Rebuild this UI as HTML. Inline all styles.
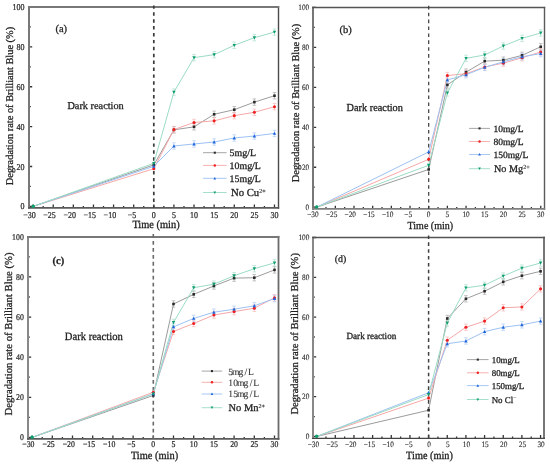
<!DOCTYPE html>
<html><head><meta charset="utf-8"><style>
html,body{margin:0;padding:0;background:#fff;}
body{width:550px;height:467px;overflow:hidden;font-family:"Liberation Serif",serif;}
svg{display:block;text-rendering:geometricPrecision;filter:blur(0.3px);}
text{stroke:#222;stroke-width:var(--tsw,0.28px);}
</style></head><body>
<svg width="550" height="467" viewBox="0 0 550 467">
<rect width="550" height="467" fill="#fff"/>
<g id="pa"><path d="M33.11 207.8V204.6M43.17 207.8V206M53.23 207.8V204.6M63.28 207.8V206M73.34 207.8V204.6M83.4 207.8V206M93.46 207.8V204.6M103.51 207.8V206M113.57 207.8V204.6M123.63 207.8V206M133.69 207.8V204.6M143.74 207.8V206M153.8 207.8V204.6M163.86 207.8V206M173.92 207.8V204.6M183.97 207.8V206M194.03 207.8V204.6M204.09 207.8V206M214.15 207.8V204.6M224.2 207.8V206M234.26 207.8V204.6M244.32 207.8V206M254.38 207.8V204.6M264.43 207.8V206M274.49 207.8V204.6M29 206.4H32.2M29 186.46H30.8M29 166.52H32.2M29 146.58H30.8M29 126.64H32.2M29 106.7H30.8M29 86.76H32.2M29 66.82H30.8M29 46.88H32.2M29 26.94H30.8M29 7H32.2" stroke="#333" stroke-width="1.3" fill="none"/><line x1="29" y1="6" x2="29" y2="208.7" stroke="#787878" stroke-width="2.0"/><line x1="278.5" y1="6" x2="278.5" y2="208.7" stroke="#4a4a4a" stroke-width="1.4"/><line x1="28" y1="7" x2="279.2" y2="7" stroke="#787878" stroke-width="2.0"/><line x1="28" y1="207.8" x2="279.2" y2="207.8" stroke="#5a5a5a" stroke-width="1.8"/><line x1="153.8" y1="5.4" x2="153.8" y2="207.8" stroke="#3a3a3a" stroke-width="1.7" stroke-dasharray="3.45 3.45"/><polyline points="33.11,206.4 153.8,164.92 173.92,129.83 194.03,126.84 214.15,114.28 234.26,109.69 254.38,102.11 274.49,95.73" fill="none" stroke="#9c9c9c" stroke-width="1.0"/><polyline points="33.11,206.4 153.8,168.71 173.92,129.63 194.03,122.45 214.15,120.86 234.26,115.67 254.38,112.28 274.49,106.7" fill="none" stroke="#f7a8a8" stroke-width="1.0"/><polyline points="33.11,206.4 153.8,166.32 173.92,145.98 194.03,143.99 214.15,141.99 234.26,138.01 254.38,136.01 274.49,133.42" fill="none" stroke="#9dc2f3" stroke-width="1.0"/><polyline points="33.11,206.4 153.8,163.33 173.92,92.14 194.03,57.65 214.15,54.66 234.26,45.28 254.38,37.71 274.49,32.12" fill="none" stroke="#9cdcc4" stroke-width="1.0"/><path d="M173.92 126.64V133.02M172.12 126.64H175.72M172.12 133.02H175.72" stroke="#ababab" stroke-width="0.7" fill="none"/><path d="M194.03 123.65V130.03M192.23 123.65H195.83M192.23 130.03H195.83" stroke="#ababab" stroke-width="0.7" fill="none"/><path d="M214.15 111.09V117.47M212.34 111.09H215.95M212.34 117.47H215.95" stroke="#ababab" stroke-width="0.7" fill="none"/><path d="M234.26 106.5V112.88M232.46 106.5H236.06M232.46 112.88H236.06" stroke="#ababab" stroke-width="0.7" fill="none"/><path d="M254.38 98.92V105.3M252.57 98.92H256.18M252.57 105.3H256.18" stroke="#ababab" stroke-width="0.7" fill="none"/><path d="M274.49 92.54V98.92M272.69 92.54H276.29M272.69 98.92H276.29" stroke="#ababab" stroke-width="0.7" fill="none"/><path d="M173.92 126.44V132.82M172.12 126.44H175.72M172.12 132.82H175.72" stroke="#f6b8b8" stroke-width="0.7" fill="none"/><path d="M194.03 119.26V125.64M192.23 119.26H195.83M192.23 125.64H195.83" stroke="#f6b8b8" stroke-width="0.7" fill="none"/><path d="M214.15 117.67V124.05M212.34 117.67H215.95M212.34 124.05H215.95" stroke="#f6b8b8" stroke-width="0.7" fill="none"/><path d="M234.26 112.48V118.86M232.46 112.48H236.06M232.46 118.86H236.06" stroke="#f6b8b8" stroke-width="0.7" fill="none"/><path d="M254.38 109.09V115.47M252.57 109.09H256.18M252.57 115.47H256.18" stroke="#f6b8b8" stroke-width="0.7" fill="none"/><path d="M274.49 103.51V109.89M272.69 103.51H276.29M272.69 109.89H276.29" stroke="#f6b8b8" stroke-width="0.7" fill="none"/><path d="M173.92 142.79V149.17M172.12 142.79H175.72M172.12 149.17H175.72" stroke="#b0ccf5" stroke-width="0.7" fill="none"/><path d="M194.03 140.8V147.18M192.23 140.8H195.83M192.23 147.18H195.83" stroke="#b0ccf5" stroke-width="0.7" fill="none"/><path d="M214.15 138.8V145.18M212.34 138.8H215.95M212.34 145.18H215.95" stroke="#b0ccf5" stroke-width="0.7" fill="none"/><path d="M234.26 134.82V141.2M232.46 134.82H236.06M232.46 141.2H236.06" stroke="#b0ccf5" stroke-width="0.7" fill="none"/><path d="M254.38 132.82V139.2M252.57 132.82H256.18M252.57 139.2H256.18" stroke="#b0ccf5" stroke-width="0.7" fill="none"/><path d="M274.49 130.23V136.61M272.69 130.23H276.29M272.69 136.61H276.29" stroke="#b0ccf5" stroke-width="0.7" fill="none"/><path d="M173.92 88.95V95.33M172.12 88.95H175.72M172.12 95.33H175.72" stroke="#ade0cd" stroke-width="0.7" fill="none"/><path d="M194.03 54.46V60.84M192.23 54.46H195.83M192.23 60.84H195.83" stroke="#ade0cd" stroke-width="0.7" fill="none"/><path d="M214.15 51.47V57.85M212.34 51.47H215.95M212.34 57.85H215.95" stroke="#ade0cd" stroke-width="0.7" fill="none"/><path d="M234.26 42.09V48.48M232.46 42.09H236.06M232.46 48.48H236.06" stroke="#ade0cd" stroke-width="0.7" fill="none"/><path d="M254.38 34.52V40.9M252.57 34.52H256.18M252.57 40.9H256.18" stroke="#ade0cd" stroke-width="0.7" fill="none"/><path d="M274.49 28.93V35.31M272.69 28.93H276.29M272.69 35.31H276.29" stroke="#ade0cd" stroke-width="0.7" fill="none"/><rect x="152.5" y="163.62" width="2.6" height="2.6" fill="#2a2a2a"/><rect x="172.62" y="128.53" width="2.6" height="2.6" fill="#2a2a2a"/><rect x="192.73" y="125.54" width="2.6" height="2.6" fill="#2a2a2a"/><rect x="212.84" y="112.98" width="2.6" height="2.6" fill="#2a2a2a"/><rect x="232.96" y="108.39" width="2.6" height="2.6" fill="#2a2a2a"/><rect x="253.07" y="100.81" width="2.6" height="2.6" fill="#2a2a2a"/><rect x="273.19" y="94.43" width="2.6" height="2.6" fill="#2a2a2a"/><circle cx="153.8" cy="168.71" r="1.55" fill="#f02020"/><circle cx="173.92" cy="129.63" r="1.55" fill="#f02020"/><circle cx="194.03" cy="122.45" r="1.55" fill="#f02020"/><circle cx="214.15" cy="120.86" r="1.55" fill="#f02020"/><circle cx="234.26" cy="115.67" r="1.55" fill="#f02020"/><circle cx="254.38" cy="112.28" r="1.55" fill="#f02020"/><circle cx="274.49" cy="106.7" r="1.55" fill="#f02020"/><path d="M153.8 164.57L155.55 167.72L152.05 167.72Z" fill="#1f66dc"/><path d="M173.92 144.23L175.67 147.38L172.17 147.38Z" fill="#1f66dc"/><path d="M194.03 142.24L195.78 145.39L192.28 145.39Z" fill="#1f66dc"/><path d="M214.15 140.24L215.9 143.39L212.4 143.39Z" fill="#1f66dc"/><path d="M234.26 136.26L236.01 139.41L232.51 139.41Z" fill="#1f66dc"/><path d="M254.38 134.26L256.12 137.41L252.62 137.41Z" fill="#1f66dc"/><path d="M274.49 131.67L276.24 134.82L272.74 134.82Z" fill="#1f66dc"/><path d="M153.8 165.08L155.55 161.93L152.05 161.93Z" fill="#0f9f6e"/><path d="M173.92 93.89L175.67 90.74L172.17 90.74Z" fill="#0f9f6e"/><path d="M194.03 59.4L195.78 56.25L192.28 56.25Z" fill="#0f9f6e"/><path d="M214.15 56.41L215.9 53.26L212.4 53.26Z" fill="#0f9f6e"/><path d="M234.26 47.03L236.01 43.88L232.51 43.88Z" fill="#0f9f6e"/><path d="M254.38 39.46L256.12 36.31L252.62 36.31Z" fill="#0f9f6e"/><path d="M274.49 33.87L276.24 30.72L272.74 30.72Z" fill="#0f9f6e"/><circle cx="33.11" cy="206.2" r="1.7" fill="#0f9f6e"/><g font-family="Liberation Serif, serif" font-size="8.0" fill="#333" style="--tsw:0.22px"><text transform="translate(24.6 209.43) scale(1 1.12)" text-anchor="end">0</text><text transform="translate(24.6 169.55) scale(1 1.12)" text-anchor="end">20</text><text transform="translate(24.6 129.67) scale(1 1.12)" text-anchor="end">40</text><text transform="translate(24.6 89.79) scale(1 1.12)" text-anchor="end">60</text><text transform="translate(24.6 49.91) scale(1 1.12)" text-anchor="end">80</text><text transform="translate(24.6 10.03) scale(1 1.12)" text-anchor="end">100</text><text transform="translate(29.41 217.6) scale(1 1.12)" text-anchor="middle">−30</text><text transform="translate(49.53 217.6) scale(1 1.12)" text-anchor="middle">−25</text><text transform="translate(69.64 217.6) scale(1 1.12)" text-anchor="middle">−20</text><text transform="translate(89.76 217.6) scale(1 1.12)" text-anchor="middle">−15</text><text transform="translate(109.87 217.6) scale(1 1.12)" text-anchor="middle">−10</text><text transform="translate(131.88 217.6) scale(1 1.12)" text-anchor="middle">−5</text><text transform="translate(153.8 217.6) scale(1 1.12)" text-anchor="middle">0</text><text transform="translate(173.92 217.6) scale(1 1.12)" text-anchor="middle">5</text><text transform="translate(194.03 217.6) scale(1 1.12)" text-anchor="middle">10</text><text transform="translate(214.15 217.6) scale(1 1.12)" text-anchor="middle">15</text><text transform="translate(234.26 217.6) scale(1 1.12)" text-anchor="middle">20</text><text transform="translate(254.38 217.6) scale(1 1.12)" text-anchor="middle">25</text><text transform="translate(274.49 217.6) scale(1 1.12)" text-anchor="middle">30</text></g><text font-family="Liberation Serif, serif" font-size="10.4" fill="#222" transform="translate(156 228.4) scale(1 1.08)" text-anchor="middle">Time (min)</text><text font-family="Liberation Serif, serif" font-size="10.4" fill="#222" text-anchor="middle" transform="translate(12.9 106) rotate(-90)">Degradation rate of Brilliant Blue (%)</text><text font-family="Liberation Serif, serif" font-size="10.3" fill="#222" transform="translate(67.4 108.8) scale(1 1)">Dark reaction</text><text font-family="Liberation Serif, serif" font-size="10.5" fill="#222" x="55.4" y="32.3">(a)</text><line x1="203" y1="152.7" x2="226.6" y2="152.7" stroke="#9c9c9c" stroke-width="0.9"/><rect x="213.76" y="151.66" width="2.08" height="2.08" fill="#2a2a2a"/><text font-family="Liberation Serif, serif" font-size="9.9" fill="#222" x="229.6" y="156.26">5mg/L</text><line x1="203" y1="165.4" x2="226.6" y2="165.4" stroke="#f7a8a8" stroke-width="0.9"/><circle cx="214.8" cy="165.4" r="1.24" fill="#f02020"/><text font-family="Liberation Serif, serif" font-size="9.9" fill="#222" x="229.6" y="168.96">10mg/L</text><line x1="203" y1="178.3" x2="226.6" y2="178.3" stroke="#9dc2f3" stroke-width="0.9"/><path d="M214.8 176.9L216.2 179.42L213.4 179.42Z" fill="#1f66dc"/><text font-family="Liberation Serif, serif" font-size="9.9" fill="#222" x="229.6" y="181.86">15mg/L</text><line x1="203" y1="192.5" x2="226.6" y2="192.5" stroke="#9cdcc4" stroke-width="0.9"/><path d="M214.8 193.9L216.2 191.38L213.4 191.38Z" fill="#0f9f6e"/><text font-family="Liberation Serif, serif" font-size="10.7" fill="#222" x="231" y="196.14">No Cu<tspan font-size="6.0" dy="-3.6" style="stroke-width:0.12px">2+</tspan></text></g><g id="pb"><path d="M316.65 208.9V205.7M325.99 208.9V207.1M335.32 208.9V205.7M344.66 208.9V207.1M354 208.9V205.7M363.34 208.9V207.1M372.68 208.9V205.7M382.01 208.9V207.1M391.35 208.9V205.7M400.69 208.9V207.1M410.02 208.9V205.7M419.36 208.9V207.1M428.7 208.9V205.7M438.04 208.9V207.1M447.38 208.9V205.7M456.71 208.9V207.1M466.05 208.9V205.7M475.39 208.9V207.1M484.72 208.9V205.7M494.06 208.9V207.1M503.4 208.9V205.7M512.74 208.9V207.1M522.08 208.9V205.7M531.41 208.9V207.1M540.75 208.9V205.7M313 207.2H316.2M313 187.22H314.8M313 167.24H316.2M313 147.26H314.8M313 127.28H316.2M313 107.3H314.8M313 87.32H316.2M313 67.34H314.8M313 47.36H316.2M313 27.38H314.8M313 7.4H316.2" stroke="#333" stroke-width="1.3" fill="none"/><line x1="313" y1="6.85" x2="313" y2="209.8" stroke="#777" stroke-width="2.0"/><line x1="544.5" y1="6.85" x2="544.5" y2="209.8" stroke="#5a5a5a" stroke-width="1.4"/><line x1="312" y1="7.5" x2="545.2" y2="7.5" stroke="#555" stroke-width="1.3"/><line x1="312" y1="208.9" x2="545.2" y2="208.9" stroke="#808080" stroke-width="1.8"/><line x1="428.7" y1="5.8" x2="428.7" y2="208.9" stroke="#3a3a3a" stroke-width="1.2" stroke-dasharray="3.6 3.3"/><polyline points="316.65,207.2 428.7,169.44 447.38,84.92 466.05,72.14 484.72,61.15 503.4,60.15 522.08,55.35 540.75,46.76" fill="none" stroke="#9c9c9c" stroke-width="1.0"/><polyline points="316.65,207.2 428.7,159.25 447.38,75.53 466.05,73.73 484.72,66.94 503.4,63.14 522.08,57.75 540.75,51.96" fill="none" stroke="#f7a8a8" stroke-width="1.0"/><polyline points="316.65,207.2 428.7,151.86 447.38,79.93 466.05,74.73 484.72,67.34 503.4,61.75 522.08,56.75 540.75,53.55" fill="none" stroke="#9dc2f3" stroke-width="1.0"/><polyline points="316.65,207.2 428.7,165.24 447.38,92.91 466.05,58.35 484.72,54.95 503.4,45.96 522.08,38.37 540.75,32.97" fill="none" stroke="#9cdcc4" stroke-width="1.0"/><path d="M447.38 81.73V88.12M445.57 81.73H449.18M445.57 88.12H449.18" stroke="#ababab" stroke-width="0.7" fill="none"/><path d="M466.05 68.94V75.33M464.25 68.94H467.85M464.25 75.33H467.85" stroke="#ababab" stroke-width="0.7" fill="none"/><path d="M484.72 57.95V64.34M482.92 57.95H486.52M482.92 64.34H486.52" stroke="#ababab" stroke-width="0.7" fill="none"/><path d="M503.4 56.95V63.34M501.6 56.95H505.2M501.6 63.34H505.2" stroke="#ababab" stroke-width="0.7" fill="none"/><path d="M522.08 52.16V58.55M520.28 52.16H523.88M520.28 58.55H523.88" stroke="#ababab" stroke-width="0.7" fill="none"/><path d="M540.75 43.56V49.96M538.95 43.56H542.55M538.95 49.96H542.55" stroke="#ababab" stroke-width="0.7" fill="none"/><path d="M447.38 72.33V78.73M445.57 72.33H449.18M445.57 78.73H449.18" stroke="#f6b8b8" stroke-width="0.7" fill="none"/><path d="M466.05 70.54V76.93M464.25 70.54H467.85M464.25 76.93H467.85" stroke="#f6b8b8" stroke-width="0.7" fill="none"/><path d="M484.72 63.74V70.14M482.92 63.74H486.52M482.92 70.14H486.52" stroke="#f6b8b8" stroke-width="0.7" fill="none"/><path d="M503.4 59.95V66.34M501.6 59.95H505.2M501.6 66.34H505.2" stroke="#f6b8b8" stroke-width="0.7" fill="none"/><path d="M522.08 54.55V60.95M520.28 54.55H523.88M520.28 60.95H523.88" stroke="#f6b8b8" stroke-width="0.7" fill="none"/><path d="M540.75 48.76V55.15M538.95 48.76H542.55M538.95 55.15H542.55" stroke="#f6b8b8" stroke-width="0.7" fill="none"/><path d="M447.38 76.73V83.12M445.57 76.73H449.18M445.57 83.12H449.18" stroke="#b0ccf5" stroke-width="0.7" fill="none"/><path d="M466.05 71.54V77.93M464.25 71.54H467.85M464.25 77.93H467.85" stroke="#b0ccf5" stroke-width="0.7" fill="none"/><path d="M484.72 64.14V70.54M482.92 64.14H486.52M482.92 70.54H486.52" stroke="#b0ccf5" stroke-width="0.7" fill="none"/><path d="M503.4 58.55V64.94M501.6 58.55H505.2M501.6 64.94H505.2" stroke="#b0ccf5" stroke-width="0.7" fill="none"/><path d="M522.08 53.55V59.95M520.28 53.55H523.88M520.28 59.95H523.88" stroke="#b0ccf5" stroke-width="0.7" fill="none"/><path d="M540.75 50.36V56.75M538.95 50.36H542.55M538.95 56.75H542.55" stroke="#b0ccf5" stroke-width="0.7" fill="none"/><path d="M447.38 89.72V96.11M445.57 89.72H449.18M445.57 96.11H449.18" stroke="#ade0cd" stroke-width="0.7" fill="none"/><path d="M466.05 55.15V61.55M464.25 55.15H467.85M464.25 61.55H467.85" stroke="#ade0cd" stroke-width="0.7" fill="none"/><path d="M484.72 51.76V58.15M482.92 51.76H486.52M482.92 58.15H486.52" stroke="#ade0cd" stroke-width="0.7" fill="none"/><path d="M503.4 42.76V49.16M501.6 42.76H505.2M501.6 49.16H505.2" stroke="#ade0cd" stroke-width="0.7" fill="none"/><path d="M522.08 35.17V41.57M520.28 35.17H523.88M520.28 41.57H523.88" stroke="#ade0cd" stroke-width="0.7" fill="none"/><path d="M540.75 29.78V36.17M538.95 29.78H542.55M538.95 36.17H542.55" stroke="#ade0cd" stroke-width="0.7" fill="none"/><rect x="427.4" y="168.14" width="2.6" height="2.6" fill="#2a2a2a"/><rect x="446.07" y="83.62" width="2.6" height="2.6" fill="#2a2a2a"/><rect x="464.75" y="70.84" width="2.6" height="2.6" fill="#2a2a2a"/><rect x="483.42" y="59.85" width="2.6" height="2.6" fill="#2a2a2a"/><rect x="502.1" y="58.85" width="2.6" height="2.6" fill="#2a2a2a"/><rect x="520.78" y="54.05" width="2.6" height="2.6" fill="#2a2a2a"/><rect x="539.45" y="45.46" width="2.6" height="2.6" fill="#2a2a2a"/><circle cx="428.7" cy="159.25" r="1.55" fill="#f02020"/><circle cx="447.38" cy="75.53" r="1.55" fill="#f02020"/><circle cx="466.05" cy="73.73" r="1.55" fill="#f02020"/><circle cx="484.72" cy="66.94" r="1.55" fill="#f02020"/><circle cx="503.4" cy="63.14" r="1.55" fill="#f02020"/><circle cx="522.08" cy="57.75" r="1.55" fill="#f02020"/><circle cx="540.75" cy="51.96" r="1.55" fill="#f02020"/><path d="M428.7 150.11L430.45 153.26L426.95 153.26Z" fill="#1f66dc"/><path d="M447.38 78.18L449.12 81.33L445.62 81.33Z" fill="#1f66dc"/><path d="M466.05 72.98L467.8 76.13L464.3 76.13Z" fill="#1f66dc"/><path d="M484.72 65.59L486.47 68.74L482.97 68.74Z" fill="#1f66dc"/><path d="M503.4 60L505.15 63.15L501.65 63.15Z" fill="#1f66dc"/><path d="M522.08 55L523.83 58.15L520.33 58.15Z" fill="#1f66dc"/><path d="M540.75 51.8L542.5 54.95L539 54.95Z" fill="#1f66dc"/><path d="M428.7 166.99L430.45 163.84L426.95 163.84Z" fill="#0f9f6e"/><path d="M447.38 94.66L449.12 91.51L445.62 91.51Z" fill="#0f9f6e"/><path d="M466.05 60.1L467.8 56.95L464.3 56.95Z" fill="#0f9f6e"/><path d="M484.72 56.7L486.47 53.55L482.97 53.55Z" fill="#0f9f6e"/><path d="M503.4 47.71L505.15 44.56L501.65 44.56Z" fill="#0f9f6e"/><path d="M522.08 40.12L523.83 36.97L520.33 36.97Z" fill="#0f9f6e"/><path d="M540.75 34.72L542.5 31.57L539 31.57Z" fill="#0f9f6e"/><circle cx="316.65" cy="207" r="1.7" fill="#0f9f6e"/><g font-family="Liberation Serif, serif" font-size="7.3" fill="#333" style="--tsw:0.12px"><text transform="translate(309.2 209.96) scale(1 1.12)" text-anchor="end">0</text><text transform="translate(309.2 170) scale(1 1.12)" text-anchor="end">20</text><text transform="translate(309.2 130.04) scale(1 1.12)" text-anchor="end">40</text><text transform="translate(309.2 90.08) scale(1 1.12)" text-anchor="end">60</text><text transform="translate(309.2 50.12) scale(1 1.12)" text-anchor="end">80</text><text transform="translate(309.2 10.16) scale(1 1.12)" text-anchor="end">100</text><text transform="translate(312.95 217.2) scale(1 1.12)" text-anchor="middle">−30</text><text transform="translate(331.62 217.2) scale(1 1.12)" text-anchor="middle">−25</text><text transform="translate(350.3 217.2) scale(1 1.12)" text-anchor="middle">−20</text><text transform="translate(368.98 217.2) scale(1 1.12)" text-anchor="middle">−15</text><text transform="translate(387.65 217.2) scale(1 1.12)" text-anchor="middle">−10</text><text transform="translate(408.22 217.2) scale(1 1.12)" text-anchor="middle">−5</text><text transform="translate(428.7 217.2) scale(1 1.12)" text-anchor="middle">0</text><text transform="translate(447.38 217.2) scale(1 1.12)" text-anchor="middle">5</text><text transform="translate(466.05 217.2) scale(1 1.12)" text-anchor="middle">10</text><text transform="translate(484.72 217.2) scale(1 1.12)" text-anchor="middle">15</text><text transform="translate(503.4 217.2) scale(1 1.12)" text-anchor="middle">20</text><text transform="translate(522.08 217.2) scale(1 1.12)" text-anchor="middle">25</text><text transform="translate(540.75 217.2) scale(1 1.12)" text-anchor="middle">30</text></g><text font-family="Liberation Serif, serif" font-size="10.0" fill="#222" transform="translate(430.3 228.6) scale(1 1.08)" text-anchor="middle">Time (min)</text><text font-family="Liberation Serif, serif" font-size="10.4" fill="#222" text-anchor="middle" transform="translate(298.8 103) rotate(-90)">Degradation rate of Brilliant Blue (%)</text><text font-family="Liberation Serif, serif" font-size="10.3" fill="#222" transform="translate(346.6 111.2) scale(1 1.04)">Dark reaction</text><text font-family="Liberation Serif, serif" font-size="10.5" fill="#222" x="339.6" y="33.4">(b)</text><line x1="469.1" y1="128.4" x2="490" y2="128.4" stroke="#9c9c9c" stroke-width="0.9"/><rect x="478.51" y="127.36" width="2.08" height="2.08" fill="#2a2a2a"/><text font-family="Liberation Serif, serif" font-size="9.5" fill="#222" x="493.4" y="131.82">10mg/L</text><line x1="469.1" y1="141.5" x2="490" y2="141.5" stroke="#f7a8a8" stroke-width="0.9"/><circle cx="479.55" cy="141.5" r="1.24" fill="#f02020"/><text font-family="Liberation Serif, serif" font-size="9.5" fill="#222" x="493.4" y="144.92">80mg/L</text><line x1="469.1" y1="154.5" x2="490" y2="154.5" stroke="#9dc2f3" stroke-width="0.9"/><path d="M479.55 153.1L480.95 155.62L478.15 155.62Z" fill="#1f66dc"/><text font-family="Liberation Serif, serif" font-size="9.5" fill="#222" x="493.4" y="157.92">150mg/L</text><line x1="469.1" y1="168.7" x2="490" y2="168.7" stroke="#9cdcc4" stroke-width="0.9"/><path d="M479.55 170.1L480.95 167.58L478.15 167.58Z" fill="#0f9f6e"/><text font-family="Liberation Serif, serif" font-size="10.2" fill="#222" x="494" y="172.17">No Mg<tspan font-size="6.2" dy="-3.6" style="stroke-width:0.12px">2+</tspan></text></g><g id="pc"><path d="M32.1 438.8V435.6M42.2 438.8V437M52.3 438.8V435.6M62.4 438.8V437M72.5 438.8V435.6M82.6 438.8V437M92.7 438.8V435.6M102.8 438.8V437M112.9 438.8V435.6M123 438.8V437M133.1 438.8V435.6M143.2 438.8V437M153.3 438.8V435.6M163.4 438.8V437M173.5 438.8V435.6M183.6 438.8V437M193.7 438.8V435.6M203.8 438.8V437M213.9 438.8V435.6M224 438.8V437M234.1 438.8V435.6M244.2 438.8V437M254.3 438.8V435.6M264.4 438.8V437M274.5 438.8V435.6M28 437.4H31.2M28 417.34H29.8M28 397.28H31.2M28 377.22H29.8M28 357.16H31.2M28 337.1H29.8M28 317.04H31.2M28 296.98H29.8M28 276.92H31.2M28 256.86H29.8M28 236.8H31.2" stroke="#333" stroke-width="1.3" fill="none"/><line x1="28" y1="235.9" x2="28" y2="439.7" stroke="#888" stroke-width="2.0"/><line x1="278.5" y1="235.9" x2="278.5" y2="439.7" stroke="#6a6a6a" stroke-width="1.8"/><line x1="27" y1="236.9" x2="279.4" y2="236.9" stroke="#787878" stroke-width="2.0"/><line x1="27" y1="438.8" x2="279.4" y2="438.8" stroke="#5a5a5a" stroke-width="1.8"/><line x1="153.3" y1="234.05" x2="153.3" y2="438.8" stroke="#6a6a6a" stroke-width="1.6" stroke-dasharray="3.8 3.15"/><polyline points="32.1,437.4 153.3,395.47 173.5,304 193.7,294.37 213.9,285.95 234.1,278.12 254.3,277.72 274.5,269.9" fill="none" stroke="#9c9c9c" stroke-width="1.0"/><polyline points="32.1,437.4 153.3,392.26 173.5,331.48 193.7,323.46 213.9,315.03 234.1,311.62 254.3,308.21 274.5,297.78" fill="none" stroke="#f7a8a8" stroke-width="1.0"/><polyline points="32.1,437.4 153.3,393.87 173.5,326.87 193.7,318.44 213.9,312.23 234.1,309.22 254.3,305.81 274.5,298.58" fill="none" stroke="#9dc2f3" stroke-width="1.0"/><polyline points="32.1,437.4 153.3,393.87 173.5,322.46 193.7,287.75 213.9,284.14 234.1,275.72 254.3,268.7 274.5,262.88" fill="none" stroke="#9cdcc4" stroke-width="1.0"/><path d="M173.5 300.79V307.21M171.7 300.79H175.3M171.7 307.21H175.3" stroke="#ababab" stroke-width="0.7" fill="none"/><path d="M193.7 291.16V297.58M191.9 291.16H195.5M191.9 297.58H195.5" stroke="#ababab" stroke-width="0.7" fill="none"/><path d="M213.9 282.74V289.16M212.1 282.74H215.7M212.1 289.16H215.7" stroke="#ababab" stroke-width="0.7" fill="none"/><path d="M234.1 274.91V281.33M232.3 274.91H235.9M232.3 281.33H235.9" stroke="#ababab" stroke-width="0.7" fill="none"/><path d="M254.3 274.51V280.93M252.5 274.51H256.1M252.5 280.93H256.1" stroke="#ababab" stroke-width="0.7" fill="none"/><path d="M274.5 266.69V273.11M272.7 266.69H276.3M272.7 273.11H276.3" stroke="#ababab" stroke-width="0.7" fill="none"/><path d="M173.5 328.27V334.69M171.7 328.27H175.3M171.7 334.69H175.3" stroke="#f6b8b8" stroke-width="0.7" fill="none"/><path d="M193.7 320.25V326.67M191.9 320.25H195.5M191.9 326.67H195.5" stroke="#f6b8b8" stroke-width="0.7" fill="none"/><path d="M213.9 311.82V318.24M212.1 311.82H215.7M212.1 318.24H215.7" stroke="#f6b8b8" stroke-width="0.7" fill="none"/><path d="M234.1 308.41V314.83M232.3 308.41H235.9M232.3 314.83H235.9" stroke="#f6b8b8" stroke-width="0.7" fill="none"/><path d="M254.3 305V311.42M252.5 305H256.1M252.5 311.42H256.1" stroke="#f6b8b8" stroke-width="0.7" fill="none"/><path d="M274.5 294.57V300.99M272.7 294.57H276.3M272.7 300.99H276.3" stroke="#f6b8b8" stroke-width="0.7" fill="none"/><path d="M173.5 323.66V330.08M171.7 323.66H175.3M171.7 330.08H175.3" stroke="#b0ccf5" stroke-width="0.7" fill="none"/><path d="M193.7 315.23V321.65M191.9 315.23H195.5M191.9 321.65H195.5" stroke="#b0ccf5" stroke-width="0.7" fill="none"/><path d="M213.9 309.02V315.44M212.1 309.02H215.7M212.1 315.44H215.7" stroke="#b0ccf5" stroke-width="0.7" fill="none"/><path d="M234.1 306.01V312.43M232.3 306.01H235.9M232.3 312.43H235.9" stroke="#b0ccf5" stroke-width="0.7" fill="none"/><path d="M254.3 302.6V309.02M252.5 302.6H256.1M252.5 309.02H256.1" stroke="#b0ccf5" stroke-width="0.7" fill="none"/><path d="M274.5 295.38V301.79M272.7 295.38H276.3M272.7 301.79H276.3" stroke="#b0ccf5" stroke-width="0.7" fill="none"/><path d="M173.5 319.25V325.67M171.7 319.25H175.3M171.7 325.67H175.3" stroke="#ade0cd" stroke-width="0.7" fill="none"/><path d="M193.7 284.54V290.96M191.9 284.54H195.5M191.9 290.96H195.5" stroke="#ade0cd" stroke-width="0.7" fill="none"/><path d="M213.9 280.93V287.35M212.1 280.93H215.7M212.1 287.35H215.7" stroke="#ade0cd" stroke-width="0.7" fill="none"/><path d="M234.1 272.51V278.93M232.3 272.51H235.9M232.3 278.93H235.9" stroke="#ade0cd" stroke-width="0.7" fill="none"/><path d="M254.3 265.49V271.91M252.5 265.49H256.1M252.5 271.91H256.1" stroke="#ade0cd" stroke-width="0.7" fill="none"/><path d="M274.5 259.67V266.09M272.7 259.67H276.3M272.7 266.09H276.3" stroke="#ade0cd" stroke-width="0.7" fill="none"/><rect x="152" y="394.17" width="2.6" height="2.6" fill="#2a2a2a"/><rect x="172.2" y="302.7" width="2.6" height="2.6" fill="#2a2a2a"/><rect x="192.4" y="293.07" width="2.6" height="2.6" fill="#2a2a2a"/><rect x="212.6" y="284.65" width="2.6" height="2.6" fill="#2a2a2a"/><rect x="232.8" y="276.82" width="2.6" height="2.6" fill="#2a2a2a"/><rect x="253" y="276.42" width="2.6" height="2.6" fill="#2a2a2a"/><rect x="273.2" y="268.6" width="2.6" height="2.6" fill="#2a2a2a"/><circle cx="153.3" cy="392.26" r="1.55" fill="#f02020"/><circle cx="173.5" cy="331.48" r="1.55" fill="#f02020"/><circle cx="193.7" cy="323.46" r="1.55" fill="#f02020"/><circle cx="213.9" cy="315.03" r="1.55" fill="#f02020"/><circle cx="234.1" cy="311.62" r="1.55" fill="#f02020"/><circle cx="254.3" cy="308.21" r="1.55" fill="#f02020"/><circle cx="274.5" cy="297.78" r="1.55" fill="#f02020"/><path d="M153.3 392.12L155.05 395.27L151.55 395.27Z" fill="#1f66dc"/><path d="M173.5 325.12L175.25 328.27L171.75 328.27Z" fill="#1f66dc"/><path d="M193.7 316.69L195.45 319.84L191.95 319.84Z" fill="#1f66dc"/><path d="M213.9 310.48L215.65 313.63L212.15 313.63Z" fill="#1f66dc"/><path d="M234.1 307.47L235.85 310.62L232.35 310.62Z" fill="#1f66dc"/><path d="M254.3 304.06L256.05 307.21L252.55 307.21Z" fill="#1f66dc"/><path d="M274.5 296.83L276.25 299.98L272.75 299.98Z" fill="#1f66dc"/><path d="M153.3 395.62L155.05 392.47L151.55 392.47Z" fill="#0f9f6e"/><path d="M173.5 324.21L175.25 321.06L171.75 321.06Z" fill="#0f9f6e"/><path d="M193.7 289.5L195.45 286.35L191.95 286.35Z" fill="#0f9f6e"/><path d="M213.9 285.89L215.65 282.74L212.15 282.74Z" fill="#0f9f6e"/><path d="M234.1 277.47L235.85 274.32L232.35 274.32Z" fill="#0f9f6e"/><path d="M254.3 270.45L256.05 267.3L252.55 267.3Z" fill="#0f9f6e"/><path d="M274.5 264.63L276.25 261.48L272.75 261.48Z" fill="#0f9f6e"/><circle cx="32.1" cy="437.2" r="1.7" fill="#0f9f6e"/><g font-family="Liberation Serif, serif" font-size="7.8" fill="#333" style="--tsw:0.22px"><text transform="translate(23.8 440.35) scale(1 1.12)" text-anchor="end">0</text><text transform="translate(23.8 400.23) scale(1 1.12)" text-anchor="end">20</text><text transform="translate(23.8 360.11) scale(1 1.12)" text-anchor="end">40</text><text transform="translate(23.8 319.99) scale(1 1.12)" text-anchor="end">60</text><text transform="translate(23.8 279.87) scale(1 1.12)" text-anchor="end">80</text><text transform="translate(23.8 239.75) scale(1 1.12)" text-anchor="end">100</text><text transform="translate(28.4 447) scale(1 1.12)" text-anchor="middle">−30</text><text transform="translate(48.6 447) scale(1 1.12)" text-anchor="middle">−25</text><text transform="translate(68.8 447) scale(1 1.12)" text-anchor="middle">−20</text><text transform="translate(89 447) scale(1 1.12)" text-anchor="middle">−15</text><text transform="translate(109.2 447) scale(1 1.12)" text-anchor="middle">−10</text><text transform="translate(131.3 447) scale(1 1.12)" text-anchor="middle">−5</text><text transform="translate(153.3 447) scale(1 1.12)" text-anchor="middle">0</text><text transform="translate(173.5 447) scale(1 1.12)" text-anchor="middle">5</text><text transform="translate(193.7 447) scale(1 1.12)" text-anchor="middle">10</text><text transform="translate(213.9 447) scale(1 1.12)" text-anchor="middle">15</text><text transform="translate(234.1 447) scale(1 1.12)" text-anchor="middle">20</text><text transform="translate(254.3 447) scale(1 1.12)" text-anchor="middle">25</text><text transform="translate(274.5 447) scale(1 1.12)" text-anchor="middle">30</text></g><text font-family="Liberation Serif, serif" font-size="10.4" fill="#222" transform="translate(154.5 459) scale(1 1.08)" text-anchor="middle">Time (min)</text><text font-family="Liberation Serif, serif" font-size="10.7" fill="#222" text-anchor="middle" transform="translate(11.8 334) rotate(-90)">Degradation rate of Brilliant Blue (%)</text><text font-family="Liberation Serif, serif" font-size="10.6" fill="#222" transform="translate(64.8 339.8) scale(1 1.06)">Dark reaction</text><text font-family="Liberation Serif, serif" font-size="10.5" font-weight="bold" fill="#222" x="52.6" y="264.4">(c)</text><line x1="201.7" y1="371.1" x2="222.2" y2="371.1" stroke="#9c9c9c" stroke-width="0.9"/><rect x="210.91" y="370.06" width="2.08" height="2.08" fill="#2a2a2a"/><text font-family="Liberation Serif, serif" font-size="9.6" fill="#3a3a3a" style="stroke-width:0.1px" x="228.25 232.02 238.45 244.62 248.12" y="374.56">5mg/L</text><line x1="201.7" y1="382.3" x2="222.2" y2="382.3" stroke="#f7a8a8" stroke-width="0.9"/><circle cx="211.95" cy="382.3" r="1.24" fill="#f02020"/><text font-family="Liberation Serif, serif" font-size="9.6" fill="#3a3a3a" style="stroke-width:0.1px" x="228.25 233.35 237.12 243.55 249.72 253.22" y="385.76">10mg/L</text><line x1="201.7" y1="394" x2="222.2" y2="394" stroke="#9dc2f3" stroke-width="0.9"/><path d="M211.95 392.6L213.35 395.12L210.55 395.12Z" fill="#1f66dc"/><text font-family="Liberation Serif, serif" font-size="9.6" fill="#3a3a3a" style="stroke-width:0.1px" x="228.25 233.35 237.12 243.55 249.72 253.22" y="397.46">15mg/L</text><line x1="201.7" y1="407.7" x2="222.2" y2="407.7" stroke="#9cdcc4" stroke-width="0.9"/><path d="M211.95 409.1L213.35 406.58L210.55 406.58Z" fill="#0f9f6e"/><text font-family="Liberation Serif, serif" font-size="10.5" fill="#222" x="228.5" y="411.27">No Mn<tspan font-size="6.0" dy="-3.6" style="stroke-width:0.12px">2+</tspan></text></g><g id="pd"><path d="M316.64 438.3V435.1M325.97 438.3V436.5M335.3 438.3V435.1M344.63 438.3V436.5M353.96 438.3V435.1M363.29 438.3V436.5M372.62 438.3V435.1M381.95 438.3V436.5M391.28 438.3V435.1M400.61 438.3V436.5M409.94 438.3V435.1M419.27 438.3V436.5M428.6 438.3V435.1M437.93 438.3V436.5M447.26 438.3V435.1M456.59 438.3V436.5M465.92 438.3V435.1M475.25 438.3V436.5M484.58 438.3V435.1M493.91 438.3V436.5M503.24 438.3V435.1M512.57 438.3V436.5M521.9 438.3V435.1M531.23 438.3V436.5M540.56 438.3V435.1M313 436.5H316.2M313 416.6H314.8M313 396.7H316.2M313 376.8H314.8M313 356.9H316.2M313 337H314.8M313 317.1H316.2M313 297.2H314.8M313 277.3H316.2M313 257.4H314.8M313 237.5H316.2" stroke="#333" stroke-width="1.3" fill="none"/><line x1="313" y1="236.85" x2="313" y2="438.95" stroke="#888" stroke-width="2.0"/><line x1="544" y1="236.85" x2="544" y2="438.95" stroke="#777" stroke-width="2.0"/><line x1="312" y1="237.5" x2="545" y2="237.5" stroke="#555" stroke-width="1.3"/><line x1="312" y1="438.3" x2="545" y2="438.3" stroke="#444" stroke-width="1.3"/><line x1="428.6" y1="235.44" x2="428.6" y2="438.3" stroke="#404040" stroke-width="1.5" stroke-dasharray="3.6 3.26"/><polyline points="316.64,436.5 428.6,410.23 447.26,318.49 465.92,298.79 484.58,291.23 503.24,281.88 521.9,275.71 540.56,271.33" fill="none" stroke="#9c9c9c" stroke-width="1.0"/><polyline points="316.64,436.5 428.6,398.09 447.26,340.18 465.92,327.25 484.58,321.08 503.24,307.75 521.9,306.95 540.56,288.84" fill="none" stroke="#f7a8a8" stroke-width="1.0"/><polyline points="316.64,436.5 428.6,392.72 447.26,343.77 465.92,340.98 484.58,331.63 503.24,327.25 521.9,324.86 540.56,321.08" fill="none" stroke="#9dc2f3" stroke-width="1.0"/><polyline points="316.64,436.5 428.6,394.51 447.26,323.07 465.92,287.85 484.58,285.26 503.24,276.11 521.9,268.15 540.56,262.97" fill="none" stroke="#9cdcc4" stroke-width="1.0"/><path d="M447.26 315.31V321.68M445.46 315.31H449.06M445.46 321.68H449.06" stroke="#ababab" stroke-width="0.7" fill="none"/><path d="M465.92 295.61V301.98M464.12 295.61H467.72M464.12 301.98H467.72" stroke="#ababab" stroke-width="0.7" fill="none"/><path d="M484.58 288.05V294.41M482.78 288.05H486.38M482.78 294.41H486.38" stroke="#ababab" stroke-width="0.7" fill="none"/><path d="M503.24 278.69V285.06M501.44 278.69H505.04M501.44 285.06H505.04" stroke="#ababab" stroke-width="0.7" fill="none"/><path d="M521.9 272.52V278.89M520.1 272.52H523.7M520.1 278.89H523.7" stroke="#ababab" stroke-width="0.7" fill="none"/><path d="M540.56 268.15V274.51M538.76 268.15H542.36M538.76 274.51H542.36" stroke="#ababab" stroke-width="0.7" fill="none"/><path d="M447.26 337V343.37M445.46 337H449.06M445.46 343.37H449.06" stroke="#f6b8b8" stroke-width="0.7" fill="none"/><path d="M465.92 324.06V330.43M464.12 324.06H467.72M464.12 330.43H467.72" stroke="#f6b8b8" stroke-width="0.7" fill="none"/><path d="M484.58 317.9V324.26M482.78 317.9H486.38M482.78 324.26H486.38" stroke="#f6b8b8" stroke-width="0.7" fill="none"/><path d="M503.24 304.56V310.93M501.44 304.56H505.04M501.44 310.93H505.04" stroke="#f6b8b8" stroke-width="0.7" fill="none"/><path d="M521.9 303.77V310.14M520.1 303.77H523.7M520.1 310.14H523.7" stroke="#f6b8b8" stroke-width="0.7" fill="none"/><path d="M540.56 285.66V292.03M538.76 285.66H542.36M538.76 292.03H542.36" stroke="#f6b8b8" stroke-width="0.7" fill="none"/><path d="M447.26 340.58V346.95M445.46 340.58H449.06M445.46 346.95H449.06" stroke="#b0ccf5" stroke-width="0.7" fill="none"/><path d="M465.92 337.8V344.16M464.12 337.8H467.72M464.12 344.16H467.72" stroke="#b0ccf5" stroke-width="0.7" fill="none"/><path d="M484.58 328.44V334.81M482.78 328.44H486.38M482.78 334.81H486.38" stroke="#b0ccf5" stroke-width="0.7" fill="none"/><path d="M503.24 324.06V330.43M501.44 324.06H505.04M501.44 330.43H505.04" stroke="#b0ccf5" stroke-width="0.7" fill="none"/><path d="M521.9 321.68V328.05M520.1 321.68H523.7M520.1 328.05H523.7" stroke="#b0ccf5" stroke-width="0.7" fill="none"/><path d="M540.56 317.9V324.26M538.76 317.9H542.36M538.76 324.26H542.36" stroke="#b0ccf5" stroke-width="0.7" fill="none"/><path d="M447.26 319.89V326.25M445.46 319.89H449.06M445.46 326.25H449.06" stroke="#ade0cd" stroke-width="0.7" fill="none"/><path d="M465.92 284.66V291.03M464.12 284.66H467.72M464.12 291.03H467.72" stroke="#ade0cd" stroke-width="0.7" fill="none"/><path d="M484.58 282.08V288.44M482.78 282.08H486.38M482.78 288.44H486.38" stroke="#ade0cd" stroke-width="0.7" fill="none"/><path d="M503.24 272.92V279.29M501.44 272.92H505.04M501.44 279.29H505.04" stroke="#ade0cd" stroke-width="0.7" fill="none"/><path d="M521.9 264.96V271.33M520.1 264.96H523.7M520.1 271.33H523.7" stroke="#ade0cd" stroke-width="0.7" fill="none"/><path d="M540.56 259.79V266.16M538.76 259.79H542.36M538.76 266.16H542.36" stroke="#ade0cd" stroke-width="0.7" fill="none"/><rect x="427.3" y="408.93" width="2.6" height="2.6" fill="#2a2a2a"/><rect x="445.96" y="317.19" width="2.6" height="2.6" fill="#2a2a2a"/><rect x="464.62" y="297.49" width="2.6" height="2.6" fill="#2a2a2a"/><rect x="483.28" y="289.93" width="2.6" height="2.6" fill="#2a2a2a"/><rect x="501.94" y="280.58" width="2.6" height="2.6" fill="#2a2a2a"/><rect x="520.6" y="274.41" width="2.6" height="2.6" fill="#2a2a2a"/><rect x="539.26" y="270.03" width="2.6" height="2.6" fill="#2a2a2a"/><circle cx="428.6" cy="398.09" r="1.55" fill="#f02020"/><circle cx="447.26" cy="340.18" r="1.55" fill="#f02020"/><circle cx="465.92" cy="327.25" r="1.55" fill="#f02020"/><circle cx="484.58" cy="321.08" r="1.55" fill="#f02020"/><circle cx="503.24" cy="307.75" r="1.55" fill="#f02020"/><circle cx="521.9" cy="306.95" r="1.55" fill="#f02020"/><circle cx="540.56" cy="288.84" r="1.55" fill="#f02020"/><path d="M428.6 390.97L430.35 394.12L426.85 394.12Z" fill="#1f66dc"/><path d="M447.26 342.02L449.01 345.17L445.51 345.17Z" fill="#1f66dc"/><path d="M465.92 339.23L467.67 342.38L464.17 342.38Z" fill="#1f66dc"/><path d="M484.58 329.88L486.33 333.03L482.83 333.03Z" fill="#1f66dc"/><path d="M503.24 325.5L504.99 328.65L501.49 328.65Z" fill="#1f66dc"/><path d="M521.9 323.11L523.65 326.26L520.15 326.26Z" fill="#1f66dc"/><path d="M540.56 319.33L542.31 322.48L538.81 322.48Z" fill="#1f66dc"/><path d="M428.6 396.26L430.35 393.11L426.85 393.11Z" fill="#0f9f6e"/><path d="M447.26 324.82L449.01 321.67L445.51 321.67Z" fill="#0f9f6e"/><path d="M465.92 289.6L467.67 286.45L464.17 286.45Z" fill="#0f9f6e"/><path d="M484.58 287.01L486.33 283.86L482.83 283.86Z" fill="#0f9f6e"/><path d="M503.24 277.86L504.99 274.71L501.49 274.71Z" fill="#0f9f6e"/><path d="M521.9 269.9L523.65 266.75L520.15 266.75Z" fill="#0f9f6e"/><path d="M540.56 264.72L542.31 261.57L538.81 261.57Z" fill="#0f9f6e"/><circle cx="316.64" cy="436.3" r="1.7" fill="#0f9f6e"/><g font-family="Liberation Serif, serif" font-size="7.3" fill="#333" style="--tsw:0.12px"><text transform="translate(309.4 439.26) scale(1 1.12)" text-anchor="end">0</text><text transform="translate(309.4 399.46) scale(1 1.12)" text-anchor="end">20</text><text transform="translate(309.4 359.66) scale(1 1.12)" text-anchor="end">40</text><text transform="translate(309.4 319.86) scale(1 1.12)" text-anchor="end">60</text><text transform="translate(309.4 280.06) scale(1 1.12)" text-anchor="end">80</text><text transform="translate(309.4 240.26) scale(1 1.12)" text-anchor="end">100</text><text transform="translate(313.44 446.6) scale(1 1.12)" text-anchor="middle">−30</text><text transform="translate(332.1 446.6) scale(1 1.12)" text-anchor="middle">−25</text><text transform="translate(350.76 446.6) scale(1 1.12)" text-anchor="middle">−20</text><text transform="translate(369.42 446.6) scale(1 1.12)" text-anchor="middle">−15</text><text transform="translate(388.08 446.6) scale(1 1.12)" text-anchor="middle">−10</text><text transform="translate(408.64 446.6) scale(1 1.12)" text-anchor="middle">−5</text><text transform="translate(429.1 446.6) scale(1 1.12)" text-anchor="middle">0</text><text transform="translate(447.76 446.6) scale(1 1.12)" text-anchor="middle">5</text><text transform="translate(466.42 446.6) scale(1 1.12)" text-anchor="middle">10</text><text transform="translate(485.08 446.6) scale(1 1.12)" text-anchor="middle">15</text><text transform="translate(503.74 446.6) scale(1 1.12)" text-anchor="middle">20</text><text transform="translate(522.4 446.6) scale(1 1.12)" text-anchor="middle">25</text><text transform="translate(541.06 446.6) scale(1 1.12)" text-anchor="middle">30</text></g><text font-family="Liberation Serif, serif" font-size="10.3" fill="#222" transform="translate(429.5 458.8) scale(1 1.08)" text-anchor="middle">Time (min)</text><text font-family="Liberation Serif, serif" font-size="10.6" fill="#222" text-anchor="middle" transform="translate(298.3 333.8) rotate(-90)">Degradation rate of Brilliant Blue (%)</text><text font-family="Liberation Serif, serif" font-size="9.1" fill="#222" transform="translate(346.5 338.5) scale(1 1.03)">Dark reaction</text><text font-family="Liberation Serif, serif" font-size="9.9" fill="#222" x="334.8" y="262">(d)</text><line x1="467" y1="359.6" x2="488.6" y2="359.6" stroke="#9c9c9c" stroke-width="0.9"/><rect x="476.76" y="358.56" width="2.08" height="2.08" fill="#2a2a2a"/><text font-family="Liberation Serif, serif" font-size="8.9" fill="#222" x="491.7" y="362.8">10mg/L</text><line x1="467" y1="372.8" x2="488.6" y2="372.8" stroke="#f7a8a8" stroke-width="0.9"/><circle cx="477.8" cy="372.8" r="1.24" fill="#f02020"/><text font-family="Liberation Serif, serif" font-size="8.9" fill="#222" x="491.7" y="376">80mg/L</text><line x1="467" y1="385.6" x2="488.6" y2="385.6" stroke="#9dc2f3" stroke-width="0.9"/><path d="M477.8 384.2L479.2 386.72L476.4 386.72Z" fill="#1f66dc"/><text font-family="Liberation Serif, serif" font-size="8.9" fill="#222" x="491.7" y="388.8">150mg/L</text><line x1="467" y1="399.5" x2="488.6" y2="399.5" stroke="#9cdcc4" stroke-width="0.9"/><path d="M477.8 400.9L479.2 398.38L476.4 398.38Z" fill="#0f9f6e"/><text font-family="Liberation Serif, serif" font-size="8.9" fill="#222" x="491.7" y="402.53">No Cl<tspan font-size="5.5" dy="-3.3" style="stroke-width:0.12px">−</tspan></text></g>
</svg>
</body></html>
